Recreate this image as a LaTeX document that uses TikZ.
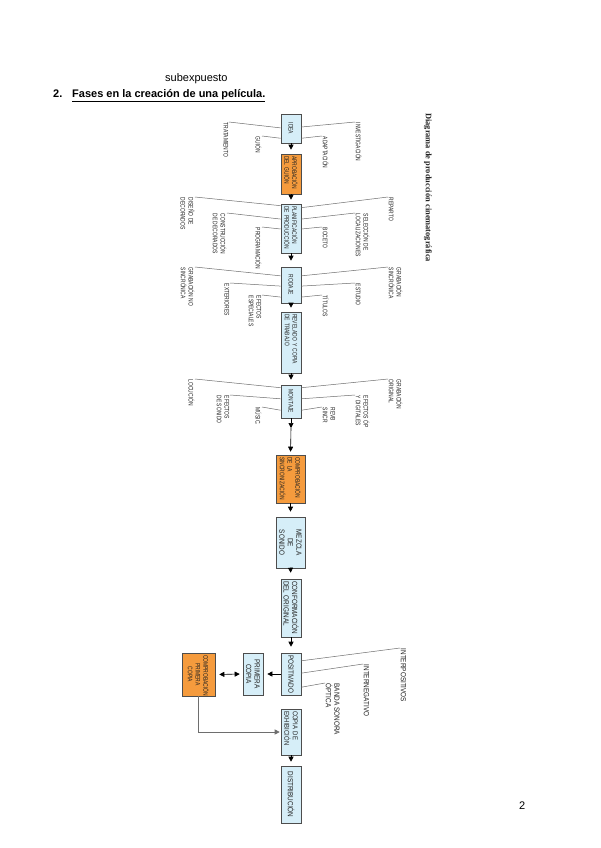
\documentclass[tikz,border=0pt]{standalone}
\usepackage{fontspec}
\setmainfont{Liberation Sans}
\newfontfamily\condA[FakeStretch=0.75]{Liberation Sans}
\newfontfamily\condB[FakeStretch=0.85]{Liberation Sans}
\newfontfamily\capfont{Liberation Serif}
\usetikzlibrary{arrows.meta,calc}
\definecolor{boxblue}{HTML}{D6EEF8}
\definecolor{boxorange}{HTML}{F59B3D}
\definecolor{boxline}{HTML}{4D4D4D}
\definecolor{leadgray}{HTML}{6E6E6E}
\definecolor{txt}{HTML}{222222}
\tikzset{
  bx/.style={rotate=-90, draw=boxline, line width=0.6pt, fill=boxblue, text=txt,
    inner xsep=2pt, inner ysep=0pt, anchor=center},
  ob/.style={bx, fill=boxorange},
  fs/.style={font=\condA\fontsize{6.6}{7.8}\selectfont},
  fl/.style={font=\condB\fontsize{7.5}{8.5}\selectfont},
  lbl/.style={rotate=-90, inner sep=0.5pt, align=left, text=txt},
  lleft/.style={lbl, anchor=north west},
  lright/.style={lbl, anchor=south west},
  lead/.style={draw=leadgray, line width=0.5pt},
  arr/.style={draw=black, line width=0.6pt, -{Triangle[width=5pt,length=5pt]}},
  garr/.style={draw=leadgray, line width=0.6pt, -{Triangle[width=5pt,length=5pt]}},
  darr/.style={draw=black, line width=0.6pt, {Triangle[width=5pt,length=5pt]}-{Triangle[width=5pt,length=5pt]}}
}
\begin{document}
\begin{tikzpicture}[x=1pt,y=-1pt]
\useasboundingbox (0,0) rectangle (600,848);
\fill[white] (0,0) rectangle (600,848);

% header texts
\node[anchor=base west, inner sep=0, font=\fontsize{11}{13}\selectfont] (subx) at (165,82) {subexpuesto};
\node[anchor=base west, inner sep=0, font=\bfseries\fontsize{11}{13}\selectfont] (num) at (53,98) {2.};
\node[anchor=base west, inner sep=0, font=\bfseries\fontsize{11}{13}\selectfont] (head) at (72,98) {\underline{Fases en la creación de una película.}};
\node[anchor=base west, inner sep=0, font=\fontsize{11}{13}\selectfont] (pnum) at (519,809) {2};
\node[rotate=-90, anchor=west, inner sep=0, font=\capfont\bfseries\fontsize{8.4}{10}\selectfont, text=txt] (cap) at (428,113) {Diagrama de producción cinematográfica};

% main column boxes
\node[bx, fs, minimum width=29pt, minimum height=20pt, text width=25pt, align=center] (idea) at (291,128.5) {IDEA};
\node[ob, fs, minimum width=40pt, minimum height=20pt, text width=36pt, align=left] (aprob) at (291,174) {APROBACIÓN\\DEL GUIÓN};
\node[bx, fs, minimum width=49pt, minimum height=20pt, text width=45pt, align=left] (plan) at (291,228.5) {PLANIFICACIÓN\\DE PRODUCCIÓN};
\node[bx, fs, minimum width=36pt, minimum height=20pt, text width=32pt, align=center] (rodaje) at (291,285) {RODAJE};
\node[bx, fs, minimum width=61pt, minimum height=20pt, text width=57pt, align=left] (revel) at (291,342.5) {REVELADO Y COPIA\\DE TRABAJO};
\node[bx, fs, minimum width=33pt, minimum height=20pt, text width=29pt, align=center] (montaje) at (291,401.5) {MONTAJE};
\node[ob, fs, minimum width=48pt, minimum height=29pt, text width=44pt, align=left] (compsinc) at (290.5,479) {COMPROBACIÓN\\DE LA\\SINCRONIZACIÓN};
\node[bx, fl, minimum width=51pt, minimum height=29pt, text width=47pt, align=center] (mezcla) at (290.5,542.5) {MEZCLA\\DE\\SONIDO};
\node[bx, fl, minimum width=58pt, minimum height=20pt, text width=54pt, align=left] (conf) at (291,608) {CONFORMACIÓN\\DEL ORIGINAL};
\node[bx, fl, minimum width=42pt, minimum height=20pt, text width=38pt, align=center] (posit) at (291,674) {POSITIVADO};
\node[bx, fl, minimum width=42pt, minimum height=20pt, text width=38pt, align=center] (primera) at (253,674) {PRIMERA\\COPIA};
\node[ob, fs, minimum width=43pt, minimum height=33pt, text width=39pt, align=center] (compprim) at (198.5,674.5) {COMPROBACIÓN\\PRIMERA\\COPIA};
\node[bx, font=\condB\fontsize{7}{8.5}\selectfont, minimum width=46pt, minimum height=20pt, text width=42pt, align=left] (copiaex) at (291,732) {COPIA DE\\EXHIBICIÓN};
\node[bx, fl, minimum width=57pt, minimum height=20pt, text width=53pt, align=center] (distr) at (291,794.5) {DISTRIBUCIÓN};

% main arrows
\draw[arr, shorten >=4pt] (idea.east) -- (aprob.west);
\draw[arr, shorten >=4pt] (aprob.east) -- (plan.west);
\draw[arr, shorten >=6pt] (plan.east) -- (rodaje.west);
\draw[arr, shorten >=4pt] (rodaje.east) -- (revel.west);
\draw[arr, shorten >=5pt] (revel.east) -- (montaje.west);
\coordinate (m1) at (291,428);
\draw[arr] (montaje.east) -- (m1);
\draw[arr, shorten >=3pt] (m1) -- (compsinc.west);
\draw[arr, shorten >=5pt] (compsinc.east) -- (mezcla.west);
\draw[arr, shorten >=6pt] (mezcla.east) -- (conf.west);
\draw[arr, shorten >=6pt] (conf.east) -- (posit.west);
\draw[arr, shorten >=4pt] (copiaex.east) -- (distr.west);
\draw[arr, shorten >=4pt] (posit.south) -- (primera.north);
\draw[darr, shorten >=3pt, shorten <=4pt] (compprim.north) -- (primera.south);
\draw[garr, shorten >=1pt] (compprim.east) |- (copiaex.south);

% IDEA labels
\node[lleft, fs] (trat) at (229,122) {TRATAMIENTO};
\node[lleft, fs] (guion) at (262,136) {GUIÓN};
\node[lright, fs] (invest) at (355,122) {INVESTIGACIÓN};
\node[lright, fs] (adapt) at (322,136) {ADAPTACIÓN};
\draw[lead] ($(idea.south west)!0.48!(idea.south east)$) -- (trat.north west);
\draw[lead] ($(idea.south west)!0.83!(idea.south east)$) -- (guion.north west);
\draw[lead] ($(idea.north west)!0.45!(idea.north east)$) -- (invest.south west);
\draw[lead] ($(idea.north west)!0.83!(idea.north east)$) -- (adapt.south west);

% PLANIFICACION labels
\node[lleft, fs] (disdec) at (195,197) {DISEÑO DE\\DECORADOS};
\node[lleft, fs] (consdec) at (227,213) {CONSTRUCCIÓN\\DE DECORADOS};
\node[lleft, fs] (progr) at (262,227) {PROGRAMACIÓN};
\node[lright, fs] (reparto) at (388,197) {REPARTO};
\node[lright, fs] (selloc) at (355,213) {SELECCIÓN DE\\LOCALIZACIONES};
\node[lright, fs] (boceto) at (322,227) {BOCETO};
\draw[lead] ($(plan.south west)!0.04!(plan.south east)$) -- (disdec.north west);
\draw[lead] ($(plan.south west)!0.31!(plan.south east)$) -- (consdec.north west);
\draw[lead] ($(plan.south west)!0.51!(plan.south east)$) -- (progr.north west);
\draw[lead] ($(plan.north west)!0.08!(plan.north east)$) -- (reparto.south west);
\draw[lead] ($(plan.north west)!0.31!(plan.north east)$) -- (selloc.south west);
\draw[lead] ($(plan.north west)!0.51!(plan.north east)$) -- (boceto.south west);

% RODAJE labels
\node[lleft, fs] (gns) at (195,267) {GRABACIÓN NO\\SINCRÓNICA};
\node[lleft, fs] (ext) at (230,283) {EXTERIORES};
\node[lleft, fs] (efesp) at (262,295) {EFECTOS\\ESPECIALES};
\node[lright, fs] (gs) at (388,267) {GRABACIÓN\\SINCRÓNICA};
\node[lright, fs] (estudio) at (355,283) {ESTUDIO};
\node[lright, fs] (titulos) at (322,295) {TÍTULOS};
\draw[lead] ($(rodaje.south west)!0.25!(rodaje.south east)$) -- (gns.north west);
\draw[lead] ($(rodaje.south west)!0.53!(rodaje.south east)$) -- (ext.north west);
\draw[lead] ($(rodaje.south west)!0.83!(rodaje.south east)$) -- (efesp.north west);
\draw[lead] ($(rodaje.north west)!0.25!(rodaje.north east)$) -- (gs.south west);
\draw[lead] ($(rodaje.north west)!0.53!(rodaje.north east)$) -- (estudio.south west);
\draw[lead] ($(rodaje.north west)!0.83!(rodaje.north east)$) -- (titulos.south west);

% MONTAJE labels
\node[lleft, fs] (locucion) at (195,379) {LOCUCIÓN};
\node[lleft, fs] (efson) at (230,395) {EFECTOS\\DE SONIDO};
\node[lleft, fs] (music) at (262,407) {MÚSIC.};
\node[lright, fs] (gorig) at (388,379) {GRABACIÓN\\ORIGINAL};
\node[lright, fs] (efop) at (355,395) {EFECTOS ÓP\\Y DIGITALES};
\node[lright, fs] (revb) at (322,407) {REVB\\SINCR};
\draw[lead] ($(montaje.south west)!0.09!(montaje.south east)$) -- (locucion.north west);
\draw[lead] ($(montaje.south west)!0.42!(montaje.south east)$) -- (efson.north west);
\draw[lead] ($(montaje.south west)!0.76!(montaje.south east)$) -- (music.north west);
\draw[lead] ($(montaje.north west)!0.09!(montaje.north east)$) -- (gorig.south west);
\draw[lead] ($(montaje.north west)!0.42!(montaje.north east)$) -- (efop.south west);
\draw[lead] ($(montaje.north west)!0.76!(montaje.north east)$) -- (revb.south west);

% POSITIVADO labels
\node[lright, fl] (interp) at (400,648) {INTERPOSITIVOS};
\node[lright, fl] (interneg) at (363,664) {INTERNEGATIVO};
\node[lright, fl] (banda) at (325,683) {BANDA SONORA\\ÓPTICA};
\draw[lead] ($(posit.north west)!0.19!(posit.north east)$) -- (interp.south west);
\draw[lead] ($(posit.north west)!0.48!(posit.north east)$) -- (interneg.south west);
\draw[lead] ($(posit.north west)!0.81!(posit.north east)$) -- (banda.south west);
\end{tikzpicture}
\end{document}
